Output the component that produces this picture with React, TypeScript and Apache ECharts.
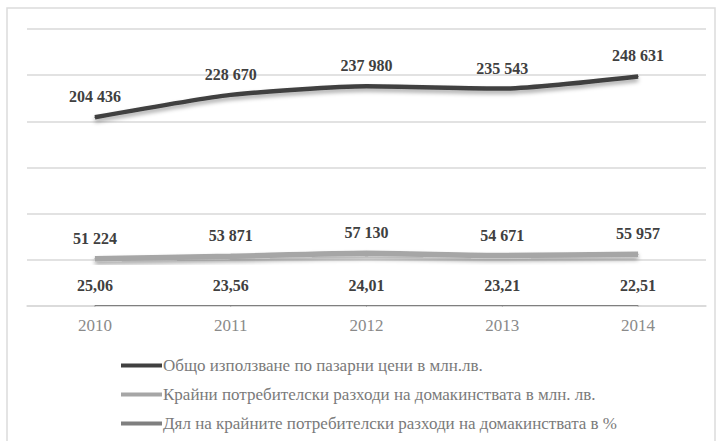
import React, { useEffect, useRef } from "react";
import * as echarts from "echarts";

const years = ["2010", "2011", "2012", "2013", "2014"];
const totalUse = [204436, 228670, 237980, 235543, 248631];
const householdSpend = [51224, 53871, 57130, 54671, 55957];
const householdShare = [25.06, 23.56, 24.01, 23.21, 22.51];
const seriesNames = [
  "Общо използване по пазарни цени в млн.лв.",
  "Крайни потребителски разходи на домакинствата в млн. лв.",
  "Дял на крайните потребителски разходи на домакинствата в %",
];

const fmtThousands = (v: number) => {
  const s = String(Math.round(v));
  return s.replace(/\B(?=(\d{3})+(?!\d))/g, " ");
};
const fmtPct = (v: number) => v.toFixed(2).replace(".", ",");

export default function App() {
  const ref = useRef<HTMLDivElement>(null);
  useEffect(() => {
    if (!ref.current) return;
    const chart = echarts.init(ref.current, null, { renderer: "svg" });
    const font = "'Liberation Serif', 'Times New Roman', serif";
    const label = (fmt: (v: number) => string) => ({
      show: true,
      position: "top" as const,
      distance: 12,
      fontFamily: font,
      fontSize: 16,
      fontWeight: "bold" as const,
      color: "#404040",
      formatter: (p: any) => fmt(p.value),
    });
    const shadow = {
      shadowColor: "rgba(0,0,0,0.35)",
      shadowBlur: 4,
      shadowOffsetY: 3,
    };
    const hiddenSymbol = {
      symbol: "circle",
      symbolSize: 1,
      showSymbol: true,
    };
    chart.setOption({
      animation: false,
      backgroundColor: "#ffffff",
      grid: { left: 27, right: 14, top: 29, bottom: 135 },
      graphic: [
        {
          type: "rect",
          shape: { x: 7, y: 8, width: 708, height: 440 },
          style: { fill: "none", stroke: "#dcdcdc", lineWidth: 1.5 },
          silent: true,
          z: -1,
        },
      ],
      legend: {
        orient: "vertical",
        left: 116,
        top: 352,
        itemWidth: 41,
        itemHeight: 4,
        itemGap: 12,
        icon: "rect",
        textStyle: { fontFamily: font, fontSize: 17, color: "#7a7a7a", padding: [0, 0, 0, -4] },
        data: seriesNames,
      },
      xAxis: {
        type: "category",
        data: years,
        boundaryGap: true,
        axisLine: { show: true, lineStyle: { color: "#d9d9d9", width: 1.5 } },
        axisTick: { show: false },
        axisLabel: { fontFamily: font, fontSize: 17, color: "#8a8a8a", margin: 11 },
      },
      yAxis: {
        type: "value",
        min: 0,
        max: 300000,
        interval: 50000,
        axisLabel: { show: false },
        axisLine: { show: false },
        axisTick: { show: false },
        splitLine: { lineStyle: { color: "#d9d9d9", width: 1.5 } },
      },
      series: [
        {
          name: seriesNames[0],
          type: "line",
          data: totalUse,
          smooth: 0.2,
          ...hiddenSymbol,
          itemStyle: { color: "#404040" },
          lineStyle: { color: "#404040", width: 4.5, ...shadow },
          label: label(fmtThousands),
          z: 3,
        },
        {
          name: seriesNames[1],
          type: "line",
          data: householdSpend,
          smooth: 0.2,
          ...hiddenSymbol,
          itemStyle: { color: "#a6a6a6" },
          lineStyle: { color: "#a6a6a6", width: 5.5, ...shadow },
          label: label(fmtThousands),
          z: 3,
        },
        {
          name: seriesNames[2],
          type: "line",
          data: householdShare,
          ...hiddenSymbol,
          itemStyle: { color: "#7f7f7f" },
          lineStyle: { color: "#7f7f7f", width: 3, ...shadow },
          label: label(fmtPct),
          z: 3,
        },
      ],
    });
    return () => chart.dispose();
  }, []);
  return (
    <div
      ref={ref}
      style={{ position: "fixed", left: 0, top: 0, width: 720, height: 441 }}
    />
  );
}
